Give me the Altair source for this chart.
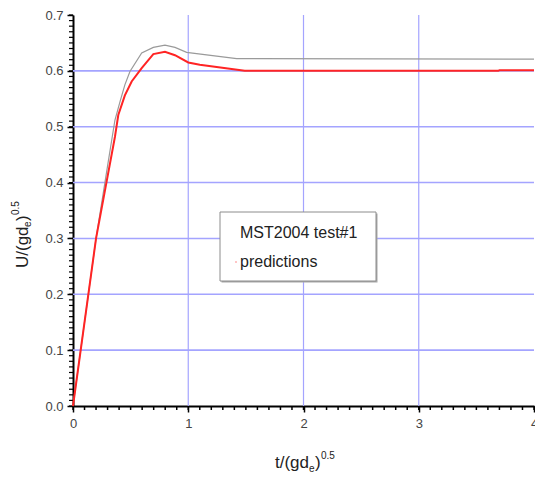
import altair as alt
import pandas as pd

# Measured series: dimensionless velocity vs dimensionless time
exp_t = [0, 0.2, 0.3, 0.364, 0.408, 0.45, 0.494, 0.596, 0.697, 0.798, 0.885, 0.986, 1.42, 4.0]
exp_u = [0, 0.3, 0.43, 0.512, 0.545, 0.575, 0.599, 0.632, 0.642, 0.646, 0.642, 0.633, 0.622, 0.621]

# Model predictions
pred_t = [0, 0.2, 0.29, 0.364, 0.393, 0.45, 0.509, 0.596, 0.697, 0.798, 0.885, 1.0, 1.1, 1.49, 3.69, 3.7, 4.0]
pred_u = [0, 0.3, 0.4, 0.482, 0.521, 0.556, 0.581, 0.605, 0.63, 0.634, 0.628, 0.615, 0.611, 0.6, 0.6, 0.601, 0.601]

x_labels = [0, 1, 2, 3, 4]
y_labels = [0.0, 0.1, 0.2, 0.3, 0.4, 0.5, 0.6, 0.7]
x_grid = [1, 2, 3]
y_grid = [0.1, 0.2, 0.3, 0.4, 0.5, 0.6]
x_minor = [round(i * 0.1, 2) for i in range(41)]
y_minor = [round(i * 0.01, 3) for i in range(71)]

W, H = 461, 391
FONT = "Liberation Sans"
GRID = "#a4a4ff"

xs = alt.Scale(domain=[0, 4], nice=False)
ys = alt.Scale(domain=[0, 0.7], nice=False)

exp_df = pd.DataFrame({"t": exp_t, "u": exp_u})
pred_df = pd.DataFrame({"t": pred_t, "u": pred_u})

x_axis = alt.Axis(values=x_labels, format="d", title=None, grid=False,
                  domainColor="black", domainWidth=2, tickColor="black",
                  tickWidth=1.5, tickSize=6, labelFont=FONT, labelFontSize=13,
                  labelColor="#444444", labelPadding=5, labelFlush=False,
                  labelOverlap=False)
y_axis = alt.Axis(values=y_labels, format=".1f", title=None, grid=False,
                  domainColor="black", domainWidth=2, tickColor="black",
                  tickWidth=1.5, tickSize=6, labelFont=FONT, labelFontSize=13,
                  labelColor="#444444", labelPadding=4, labelFlush=False,
                  labelOverlap=False)


def X(f):
    return alt.X(f, scale=xs, axis=x_axis)


def Y(f):
    return alt.Y(f, scale=ys, axis=y_axis)


vgrid = alt.Chart(pd.DataFrame({"t": x_grid})).mark_rule(
    color=GRID, strokeWidth=1.2).encode(x=X("t:Q"))
hgrid = alt.Chart(pd.DataFrame({"u": y_grid})).mark_rule(
    color=GRID, strokeWidth=1.6).encode(y=Y("u:Q"))

xminor = alt.Chart(pd.DataFrame({"t": x_minor})).mark_rule(
    color="black", strokeWidth=1.5).encode(
    x=X("t:Q"), y=alt.value(H), y2=alt.value(H + 4))
yminor = alt.Chart(pd.DataFrame({"u": y_minor})).mark_rule(
    color="black", strokeWidth=1.2).encode(
    y=Y("u:Q"), x=alt.value(-4), x2=alt.value(0))

exp_line = alt.Chart(exp_df).mark_line(color="#9a9a9a", strokeWidth=1.2).encode(
    x=X("t:Q"), y=Y("u:Q"))
pred_line = alt.Chart(pred_df).mark_line(color="#ff2424", strokeWidth=2).encode(
    x=X("t:Q"), y=Y("u:Q"))

one = pd.DataFrame({"k": [0]})


def txt(s, x, y, size, **kw):
    return alt.Chart(one).mark_text(text=s, font=FONT, fontSize=size,
                                    color="#222222", align="left",
                                    baseline="alphabetic", **kw).encode(
        x=alt.value(x), y=alt.value(y))


# Legend box with a soft shadow
shadow = alt.Chart(one).mark_rect(fill="#a8a8a8").encode(
    x=alt.value(148.5), x2=alt.value(304.5), y=alt.value(198.5), y2=alt.value(267.5))
box = alt.Chart(one).mark_rect(fill="white", stroke="#8c8c8c", strokeWidth=1).encode(
    x=alt.value(147), x2=alt.value(303), y=alt.value(197), y2=alt.value(266))
leg1 = txt("MST2004 test#1", 167, 223, 16)
leg2 = txt("predictions", 167, 252, 16)
dot = alt.Chart(one).mark_point(shape="square", size=3, filled=True,
                                color="#ff8080").encode(
    x=alt.value(163), y=alt.value(247))

# x-axis title: t/(gd_e)^0.5
xt = [
    txt("t/(gd", 202, 453, 17),
    txt("e", 236, 457, 10),
    txt(")", 242, 453, 17),
    txt("0.5", 248, 444, 10),
]

# y-axis title, rotated: U/(gd_e)^0.5
yt = [
    txt("U/(gd", -45, 253, 17, angle=270),
    txt("e", -42, 212, 10, angle=270),
    txt(")", -45, 206, 17, angle=270),
    txt("0.5", -54, 200, 10, angle=270),
]

chart = alt.layer(
    vgrid, hgrid, xminor, yminor, exp_line, pred_line,
    shadow, box, leg1, leg2, dot, *xt, *yt
).properties(
    width=W, height=H,
    autosize=alt.AutoSizeParams(type="none"),
    padding={"left": 73, "top": 15, "right": 1, "bottom": 73},
    background="white",
).configure_view(stroke=None)

chart.save("out.html", embed_options={"renderer": "svg", "actions": False})
